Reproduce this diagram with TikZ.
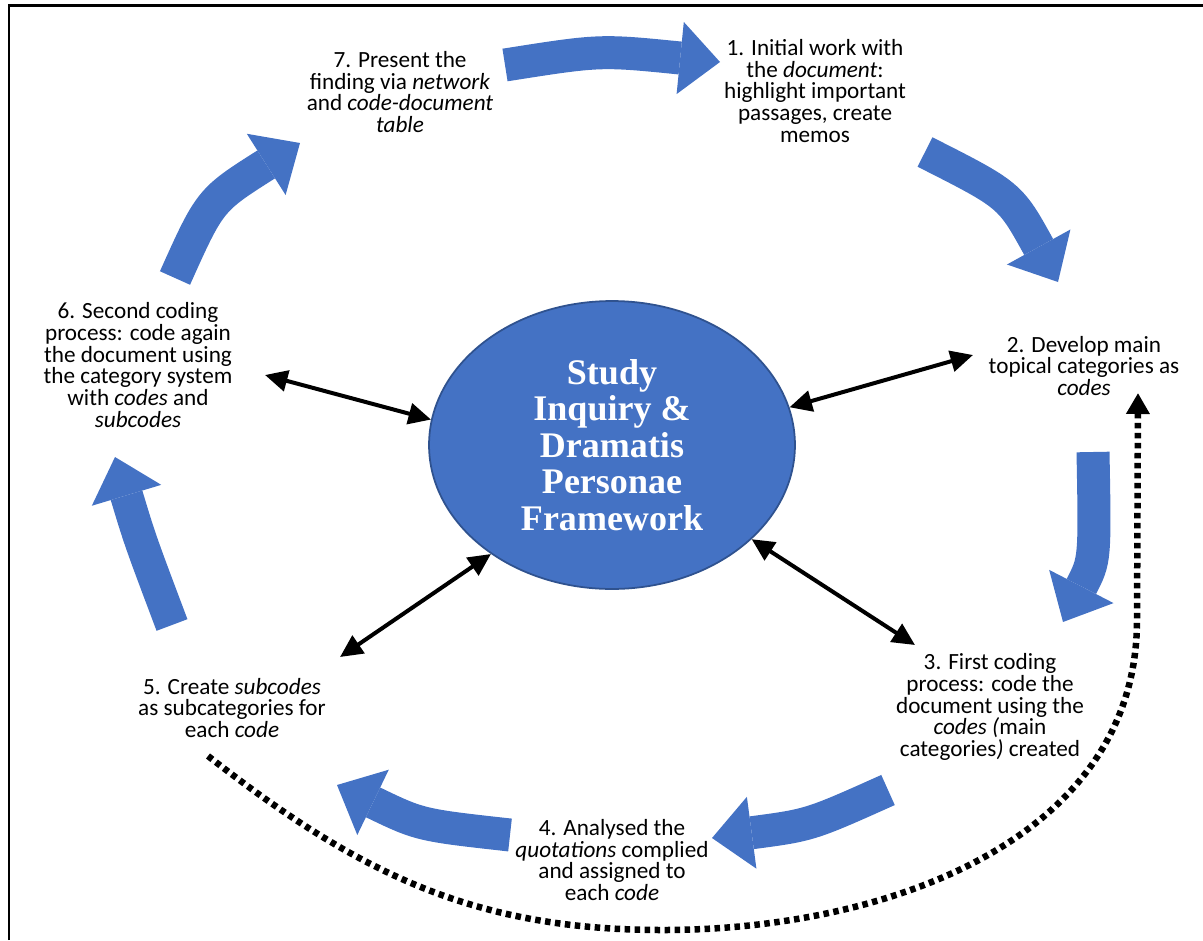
\documentclass[tikz,border=0pt]{standalone}
\usepackage{fontspec}
\setmainfont{Carlito}
\newfontfamily\hubfont{Liberation Serif}
\usepackage{xcolor}
\usetikzlibrary{arrows.meta,shapes.geometric}
\definecolor{flowblue}{HTML}{4472C4}
\definecolor{rimblue}{HTML}{2F528F}

\begin{document}
\begin{tikzpicture}[x=0.02cm, y=0.02cm,
  every node/.style={font=\fontsize{13.2}{12.3}\selectfont},
  stagetext/.style={align=center, inner sep=1pt},
  flow/.style={draw=flowblue, line width=0.66cm, -{Triangle[length=0.8cm, width=1.45cm, line width=0pt]}},
  link/.style={line width=0.08cm, {Triangle[length=0.45cm, width=0.42cm]}-{Triangle[length=0.45cm, width=0.42cm]}},
  loopback/.style={line width=0.13cm, dash pattern=on 0.11cm off 0.09cm, -{Triangle[length=0.42cm, width=0.45cm]}}]
  \useasboundingbox (0,0) rectangle (1203,-940);
  \draw[line width=0.06cm] (9,-940) -- (9,-5) -- (1203,-5);

  % centre
  \node[ellipse, fill=flowblue, draw=rimblue, line width=1pt, minimum width=7.32cm, minimum height=5.76cm, inner sep=0pt,
        text=white, align=center, font=\hubfont\bfseries\fontsize{20.5}{20.8}\selectfont] (hub) at (612,-445)
        {Study\\Inquiry \&\\Dramatis\\Personae\\Framework};

  % stages
  \node[stagetext] (s1) at (815,-91) {1. Initial work with\\the \textit{document}:\\highlight important\\passages, create\\memos};
  \node[stagetext] (s2) at (1084,-366) {2. Develop main\\topical categories as\\\textit{codes}};
  \node[stagetext] (s3) at (990,-707) {3. First coding\\process: code the\\document using the\\\textit{codes (}main\\categories\textit{)} created};
  \node[stagetext] (s4) at (612,-860) {4. Analysed the\\\textit{quotations} complied\\and assigned to\\each \textit{code}};
  \node[stagetext] (s5) at (232,-708) {5. Create \textit{subcodes}\\as subcategories for\\each \textit{code}};
  \node[stagetext] (s6) at (138,-365) {6. Second coding\\process: code again\\the document using\\the category system\\with \textit{codes} and\\\textit{subcodes}};
  \node[stagetext] (s7) at (400,-92) {7. Present the\\finding via \textit{network}\\and \textit{code-document}\\\textit{table}};

  % cycle arrows
  \coordinate (f7a) at (505,-65);  \coordinate (f7b) at (720,-62);
  \coordinate (f1a) at (925,-152); \coordinate (f1b) at (1058,-282);
  \coordinate (f2a) at (1093,-452); \coordinate (f2b) at (1063,-622);
  \coordinate (f3a) at (888,-790); \coordinate (f3b) at (712,-838);
  \coordinate (f4a) at (510,-835); \coordinate (f4b) at (337,-785);
  \coordinate (f5a) at (172,-625); \coordinate (f5b) at (115,-457);
  \coordinate (f6a) at (175,-278); \coordinate (f6b) at (300,-143);
  \draw[flow] (f7a) .. controls (600,-50) .. (f7b);
  \draw[flow] (f1a) .. controls (1010,-195) .. (f1b);
  \draw[flow] (f2a) .. controls (1095,-560) .. (f2b);
  \draw[flow] (f3a) .. controls (810,-825) .. (f3b);
  \draw[flow] (f4a) .. controls (420,-825) .. (f4b);
  \draw[flow] (f5a) .. controls (140,-540) .. (f5b);
  \draw[flow] (f6a) .. controls (210,-200) .. (f6b);

  % links to the centre
  \coordinate (l6) at (265,-375);
  \coordinate (l2) at (973,-355);
  \coordinate (l5) at (340,-657);
  \coordinate (l3) at (915,-645);
  \draw[link] (l6) -- (hub.172);
  \draw[link] (hub.12) -- (l2);
  \draw[link] (l5) -- (hub.-138);
  \draw[link] (hub.-34) -- (l3);

  % feedback loop
  \coordinate (d5) at (208,-756);
  \coordinate (dlow) at (663,-930);
  \coordinate (dside) at (1137,-620);
  \coordinate (d2) at (1138,-393);
  \draw[loopback] (d5) to[out=-38, in=180] (dlow) to[out=0, in=-90] (dside) -- (d2);
\end{tikzpicture}
\end{document}
